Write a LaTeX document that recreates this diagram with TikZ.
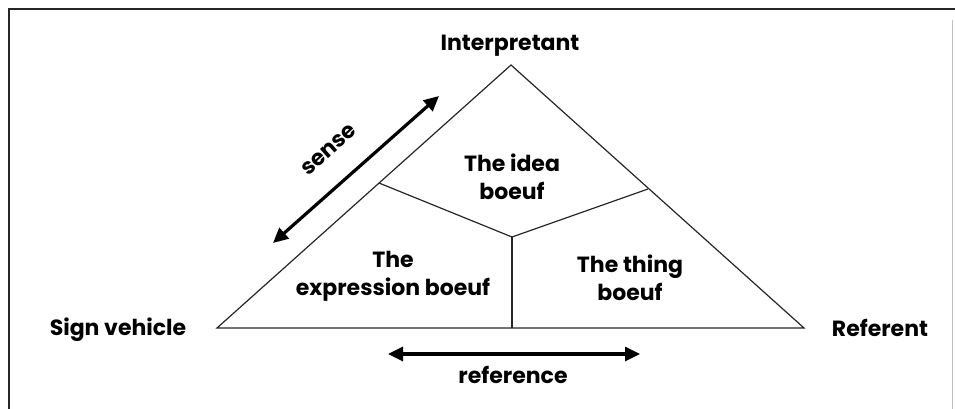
\documentclass[tikz,border=0pt]{standalone}
\usepackage{fontspec}
\setmainfont{Poppins}
\usetikzlibrary{arrows.meta}
\begin{document}
\begin{tikzpicture}[x=1pt,y=-1pt,
  lbl/.style={inner sep=0pt,font=\fontsize{22}{22}\selectfont\bfseries,align=center},
  cell/.style={inner sep=0pt,font=\fontsize{22}{28}\selectfont\bfseries,align=center},
  edge/.style={line width=1.2pt,black!85},
  dbl/.style={line width=3.2pt,{Triangle[length=15pt,width=14pt]}-{Triangle[length=15pt,width=14pt]}}]
\useasboundingbox (0,0) rectangle (955,409);
% frame
\draw[line width=2pt,black!85] (9,409) -- (9,9.5) -- (955,9.5);
\draw[line width=0.8pt,black!25] (952,20) -- (952,409);
% triangle
\coordinate (A) at (511,65);
\coordinate (L) at (217,328);
\coordinate (R) at (804,328);
\coordinate (C) at (512,237);
\coordinate (DL) at (379,183);
\coordinate (DR) at (648,189);
\coordinate (DB) at (512,328);
\draw[edge,line join=miter] (A) -- (R) -- (L) -- cycle;
\draw[edge] (DL) -- (C) -- (DR);
\draw[edge] (C) -- (DB);
% labels
\node[lbl] (interp) at (510,46) {Interpretant};
\node[lbl] (sign) at (118,330) {Sign vehicle};
\node[lbl] (ref) at (880,328) {Referent};
\node[cell] (idea) at (512,177) {The idea\\boeuf};
\node[cell] (expr) at (393,276) {The\\expression boeuf};
\node[cell] (thing) at (630,278) {The thing\\boeuf};
% sense arrow
\coordinate (s1) at (273,243);
\coordinate (s2) at (439,96);
\draw[dbl] (s1) -- (s2);
\node[lbl,rotate=41.5] (sense) at (329,150) {sense};
% reference arrow
\coordinate (r1) at (388,354);
\coordinate (r2) at (640,354);
\draw[dbl] (r1) -- (r2);
\node[lbl] (reference) at (513,375) {reference};
\end{tikzpicture}
\end{document}
